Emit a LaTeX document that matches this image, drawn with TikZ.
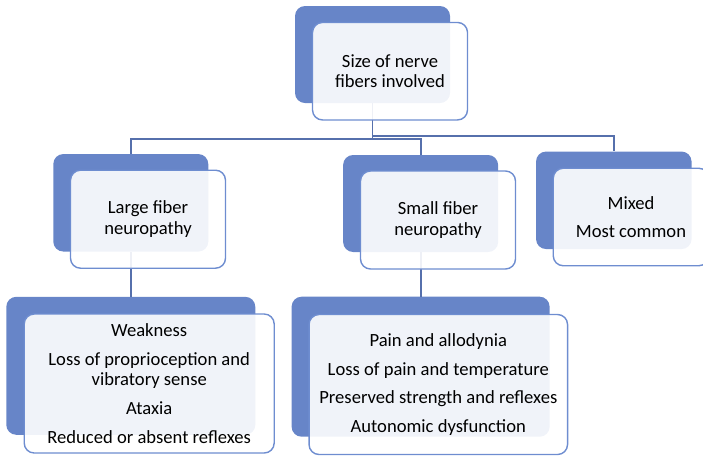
\documentclass[tikz,border=0pt]{standalone}
\usepackage{fontspec}
\setmainfont{Carlito}
\usepackage{tikz}
\usetikzlibrary{shapes.misc}
\definecolor{backblue}{HTML}{6785C8}
\definecolor{edgeblue}{HTML}{6E8DD0}
\definecolor{linkblue}{HTML}{5670AC}

\begin{document}
\begin{tikzpicture}[x=1pt,y=-1pt,
  back/.style={rectangle,rounded corners=10pt,fill=backblue,inner sep=0pt},
  front/.style={rectangle,rounded corners=10pt,draw=edgeblue,line width=1.4pt,fill=white,fill opacity=0.9,text opacity=1,inner sep=0pt,align=center,font=\fontsize{18.6}{20.6}\selectfont},
  link/.style={draw=linkblue,line width=1.8pt}]

\useasboundingbox (0,0) rectangle (703,456);
\clip (0,0) rectangle (703,456);

\node [back,minimum width=155pt,minimum height=97pt] (v1) at (372.5,54.5) {};
\node [back,minimum width=155pt,minimum height=97.5pt] (v2) at (130.8,202.8) {};
\node [back,minimum width=155pt,minimum height=97pt] (v3) at (420.6,203.5) {};
\node [back,minimum width=155.5pt,minimum height=97.5pt] (v4) at (613.8,200.3) {};
\node [back,minimum width=249pt,minimum height=138pt] (v5) at (130.8,365.8) {};
\node [back,minimum width=258pt,minimum height=140pt] (v6) at (420.6,366.7) {};

\draw [link] (v1.south) -- ++(0,36) -| (v2.north);
\draw [link] (v1.south) -- ++(0,36) -| (v3.north);
\draw [link] (v1.south) -- ++(0,32.5) -| (v4.north);
\draw [link] (v2.south) -- (v5.north);
\draw [link] (v3.south) -- (v6.north);

\node [front,minimum width=155pt,minimum height=97.5pt] (t1) at (390,71.2) {Size of nerve\\fibers involved};
\node [front,minimum width=155pt,minimum height=98pt] (t2) at (148,219.2) {Large fiber\\neuropathy};
\node [front,minimum width=155pt,minimum height=98pt] (t3) at (438,220) {Small fiber\\neuropathy};
\node [front,minimum width=155.5pt,minimum height=97.5pt] (t4) at (631,217) {Mixed\\[8pt]Most common};
\node [front,minimum width=250pt,minimum height=139pt] (t5) at (149.2,383.5) {Weakness\\[8pt]Loss of proprioception and\\vibratory sense\\[8pt]Ataxia\\[8pt]Reduced or absent reflexes};
\node [front,minimum width=258.5pt,minimum height=140pt] (t6) at (438.3,384.5) {Pain and allodynia\\[8pt]Loss of pain and temperature\\[8pt]Preserved strength and reflexes\\[8pt]Autonomic dysfunction};
\end{tikzpicture}
\end{document}
